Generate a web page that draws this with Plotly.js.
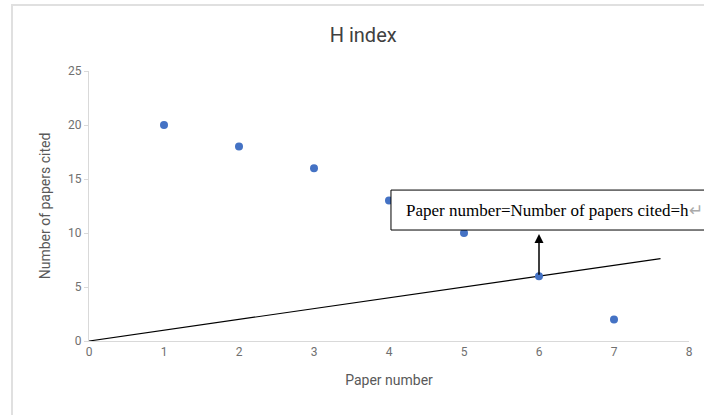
<!DOCTYPE html>
<html>
<head>
<meta charset="utf-8">
<script src="https://cdn.plot.ly/plotly-3.0.1.min.js"></script>
<style>html,body{margin:0;padding:0;background:#fff;}#chart{width:704px;height:415px;}</style>
</head>
<body>
<div id="chart"></div>
<script>
const paperNumbers = [1, 2, 3, 4, 5, 6, 7];
const citedCounts = [20, 18, 16, 13, 10, 6, 2];
const lineX = [0, 7.62];
const lineY = [0, 7.62];
const xTicks = [0, 1, 2, 3, 4, 5, 6, 7, 8];
const yTicks = [0, 5, 10, 15, 20, 25];
const hPoint = {x: 6, y: 6};
const arrowHeadY = 9.9;
const noteText = 'Paper number=Number of papers cited=h';

const traces = [
  {x: lineX, y: lineY, mode: 'lines', type: 'scatter',
   line: {color: '#000000', width: 1.2}, hoverinfo: 'skip'},
  {x: paperNumbers, y: citedCounts, mode: 'markers', type: 'scatter',
   marker: {color: '#4472C4', size: 8}}
];

const layout = {
  width: 704, height: 415,
  margin: {l: 89, r: 15, t: 71, b: 74},
  paper_bgcolor: '#ffffff', plot_bgcolor: '#ffffff',
  showlegend: false,
  font: {family: 'Roboto, "Noto Sans", sans-serif', color: '#595959'},
  title: {text: 'H index', font: {size: 20, color: '#404040'},
          xref: 'paper', x: 0.457, xanchor: 'center', y: 0.916, yanchor: 'middle'},
  xaxis: {range: [0, 8], tickvals: xTicks, showgrid: false, zeroline: false,
          showline: true, linecolor: '#d9d9d9', linewidth: 1,
          ticks: '', tickfont: {size: 12, color: '#707070'},
          title: {text: 'Paper number', font: {size: 14, color: '#595959'}, standoff: 16}},
  yaxis: {range: [0, 25], tickvals: yTicks, showgrid: false, zeroline: false,
          showline: true, linecolor: '#d9d9d9', linewidth: 1,
          ticks: 'outside', ticklen: 4, tickcolor: '#d9d9d9',
          tickfont: {size: 12, color: '#707070'},
          title: {text: 'Number of papers cited', font: {size: 14, color: '#595959'}, standoff: 14}},
  shapes: [
    {type: 'rect', xref: 'paper', yref: 'paper', x0: -0.1283, x1: 1.1, y0: -0.4, y1: 1.244,
     line: {color: '#e0e0e0', width: 2}, fillcolor: 'rgba(0,0,0,0)', layer: 'below'},
    {type: 'rect', xref: 'paper', yref: 'paper', x0: 0.5033, x1: 1.1, y0: 0.411, y1: 0.559,
     line: {color: '#000000', width: 1}, fillcolor: '#ffffff', layer: 'above'}
  ],
  annotations: [
    {xref: 'paper', yref: 'paper', x: 0.525, y: 0.485, xanchor: 'left', yanchor: 'middle',
     text: noteText + '<span style="color:#aaaaaa">↵</span>', showarrow: false,
     font: {family: '"Liberation Serif", "Times New Roman", serif', size: 17, color: '#000000'}},
    {xref: 'x', yref: 'y', axref: 'x', ayref: 'y', x: hPoint.x, y: arrowHeadY,
     ax: hPoint.x, ay: hPoint.y, text: '', showarrow: true, arrowhead: 2,
     arrowsize: 1.2, arrowwidth: 1.5, arrowcolor: '#000000'}
  ]
};

Plotly.newPlot('chart', traces, layout, {displayModeBar: false, staticPlot: true});
</script>
</body>
</html>
